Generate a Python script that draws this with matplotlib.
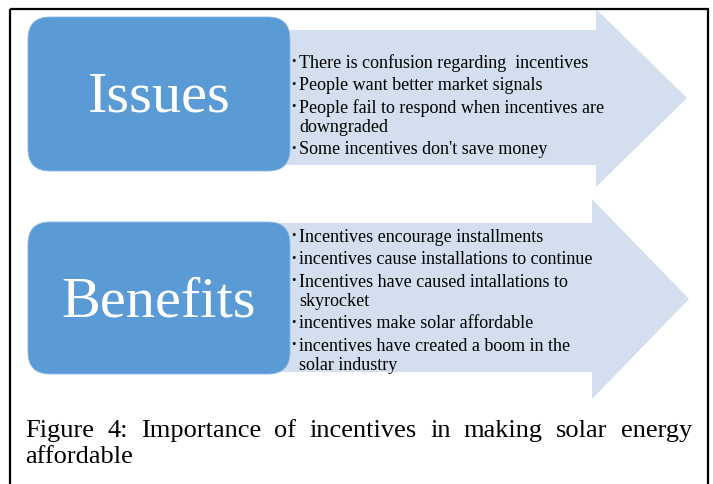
import matplotlib
matplotlib.use('Agg')
import matplotlib.pyplot as plt
from matplotlib.patches import Polygon, FancyBboxPatch, Rectangle

# diagram content
labels = ["Issues", "Benefits"]
issue_items = [
    "There is confusion regarding  incentives",
    "People want better market signals",
    "People fail to respond when incentives are\ndowngraded",
    "Some incentives don't save money",
]
benefit_items = [
    "Incentives encourage installments",
    "incentives cause installations to continue",
    "Incentives have caused intallations to\nskyrocket",
    "incentives make solar affordable",
    "incentives have created a boom in the\nsolar industry",
]
caption_line1 = "Figure 4: Importance of incentives in making solar energy"
caption_line2 = "affordable"

BOX = '#5b9bd5'
ARROW = '#d3dfee'
SERIF = 'Liberation Serif'

fig = plt.figure(figsize=(7.13, 4.85), dpi=100)
ax = fig.add_axes([0, 0, 1, 1])
ax.set_xlim(0, 713)
ax.set_ylim(485, 0)
ax.axis('off')


def arrow(x0, top, bot, head_x, head_top, head_bot, tip_x):
    mid = (head_top + head_bot) / 2
    pts = [(x0, top), (head_x, top), (head_x, head_top), (tip_x, mid),
           (head_x, head_bot), (head_x, bot), (x0, bot)]
    ax.add_patch(Polygon(pts, closed=True, fc=ARROW, ec='none', zorder=1))


def box(x, y, w, h, label, baseline):
    ax.add_patch(FancyBboxPatch((x, y), w, h, boxstyle='round,pad=0,rounding_size=22',
                                fc=BOX, ec='#8cb8e6', lw=0.6, zorder=2))
    ax.text(x + w / 2, baseline, label, color='white', fontsize=42, family=SERIF,
            ha='center', va='baseline', zorder=3)


def bullets(items, y0, x=291):
    y = y0
    for item in items:
        lines = item.split('\n')
        ax.text(x, y - 3, '\u2022', fontsize=9, family=SERIF, va='baseline', zorder=3)
        for ln in lines:
            ax.text(x + 8, y, ln, fontsize=13, family=SERIF, va='baseline', zorder=3)
            y += 19
        y += 3.5


# top: issues
arrow(200, 31, 166, 596, 10, 188, 687)
box(28, 18, 262, 154, labels[0], 112)
bullets(issue_items, 68)

# bottom: benefits
arrow(200, 224, 373, 592, 200, 400, 689)
box(28, 223, 262, 152, labels[1], 317)
bullets(benefit_items, 242)

# outer frame
ax.add_patch(Rectangle((9.5, 9.5), 698.5, 490, fill=False, ec='black', lw=1.6, zorder=5))

# caption, first line justified
r = fig.canvas.get_renderer()
words = caption_line1.split()
texts = [ax.text(0, 437, w, fontsize=19, family=SERIF, va='baseline') for w in words]
widths = [t.get_window_extent(r).width for t in texts]
gap = (692 - 25 - sum(widths)) / (len(words) - 1)
x = 25
for t, w in zip(texts, widths):
    t.set_x(x)
    x += w + gap
ax.text(25, 463, caption_line2, fontsize=19, family=SERIF, va='baseline')

fig.savefig('out.png', dpi=100)
